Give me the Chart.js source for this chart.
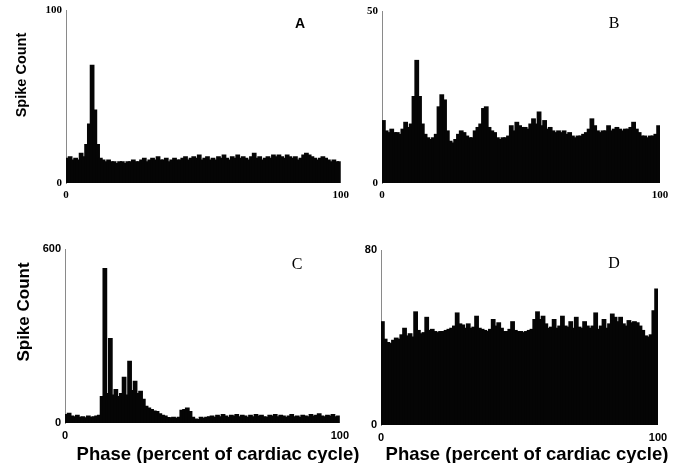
<!DOCTYPE html>
<html>
<head>
<meta charset="utf-8">
<script src="https://cdn.jsdelivr.net/npm/chart.js@4.4.1/dist/chart.umd.min.js"></script>
<style>
  html, body { margin: 0; padding: 0; background: #fff; }
  #wrap { position: relative; width: 681px; height: 463px; overflow: hidden; background: #fff; }
  canvas { position: absolute; }
  .t { position: absolute; color: #000; white-space: nowrap; transform: translate(-50%, -50%); line-height: 1; }
  .ylab { font-family: "Liberation Sans", Arial, sans-serif; font-weight: bold; transform: translate(-50%, -50%) rotate(-90deg); }
  .xlab { font-family: "Liberation Sans", Arial, sans-serif; font-weight: bold; font-size: 18.5px; }
  .let { font-family: "Liberation Serif", "Times New Roman", serif; font-size: 16px; }
</style>
</head>
<body>
<div id="wrap">
  <canvas id="cA" width="355" height="210" style="left:0px;top:0px;"></canvas>
  <canvas id="cB" width="341" height="210" style="left:340px;top:0px;"></canvas>
  <canvas id="cC" width="355" height="215" style="left:0px;top:235px;"></canvas>
  <canvas id="cD" width="341" height="215" style="left:340px;top:235px;"></canvas>

  <div class="t ylab" style="left:21px;top:75px;font-size:14.5px;">Spike Count</div>
  <div class="t ylab" style="left:23px;top:312px;font-size:17px;">Spike Count</div>
  <div class="t xlab" style="left:218px;top:454px;">Phase (percent of cardiac cycle)</div>
  <div class="t xlab" style="left:527px;top:454px;">Phase (percent of cardiac cycle)</div>

  <div class="t let" style="left:300px;top:23px;font-family:'Liberation Sans',Arial,sans-serif;font-weight:bold;font-size:14px;">A</div>
  <div class="t let" style="left:614px;top:23px;">B</div>
  <div class="t let" style="left:297px;top:264px;">C</div>
  <div class="t let" style="left:614px;top:263px;">D</div>
</div>
<script>
// ---- Data (spike counts per phase bin, 100 bins over 0–100 % of cardiac cycle) ----
const countsA = [14,15,13,14,13,17,15,22,34,68, 42,22,14,13,12,13,12,12,11,12,
  12,11,12,12,13,12,12,13,14,12, 13,14,13,15,13,13,14,12,13,14,
  13,13,14,15,13,14,15,14,16,13, 14,15,13,14,13,15,14,16,14,13,
  15,14,16,14,15,14,13,15,17,14, 15,13,14,15,14,16,15,16,15,14,
  16,15,14,15,13,14,16,17,16,15, 14,13,14,15,14,13,12,13,12,12];

const countsB = [18,15,14.5,15.5,14.5,14.5,14,15.5,17.5,16, 17,25,35.5,25,17,14,13,12.5,13,14,
  22,25.5,24,15,12,11.5,12.5,14,15,14.5, 13.5,13,13,15,16,17,21.5,22,16,15,
  14.5,13,12.5,13,13,13.5,16.5,15,17.5,16.5, 16,16,15.5,17,18.5,17,20.5,16.5,18,15.5,
  16,15,14.5,15,14.5,15,14,14.5,13.5,13, 13.5,13.5,14,14.5,15.5,18.5,16.5,15,14.5,15,
  15,16.5,15,15.5,16,15.5,15,15.5,15.5,16, 17.5,15.5,14.5,13.5,13.5,13,13.5,13.5,14,16.5];

const countsC = [28,32,22,20,25,18,20,16,22,18, 20,22,25,90,531,100,290,95,114,90,
  100,156,95,211,110,142,100,108,80,56, 50,45,40,38,30,25,22,17,16,18,
  15,18,42,45,50,38,18,12,10,18, 15,18,20,22,18,25,20,28,22,18,
  25,22,28,20,25,22,18,25,20,28, 22,25,20,18,25,22,28,20,25,22,
  18,22,28,20,22,18,25,22,20,28, 22,25,30,22,20,25,22,28,20,22];

const countsD = [47,39,37.5,37,38.5,39.5,39,41,44,40.5, 41.5,40,51.5,43,41.5,42,49,43,43.5,42.5,
  42,42.5,42.5,43,43.5,44,45,51,46,45.5, 44,46,44,44.5,49.5,44,43.5,43,42.5,43.5,
  48,45,46.5,44,42.5,42.5,43.5,47,43,42.5, 42.5,42,42.5,43,43.5,48,51.5,48,49.5,46,
  44,44.5,48,44,45,49.5,45,44.5,47,44, 49,44.5,44,47,45,44,45,51,43.5,45,
  48,44,46,50.5,49,47,49,46,45,47.5, 46.5,47,46.5,45,43,40.5,40,41,52,62];

// Phase bin centres (percent of cardiac cycle)
const phaseBins = countsA.map((_, i) => i + 0.5);

// Axis tick labels
const xTicks = [0, 100];
const yMaxA = 100, yMaxB = 50, yMaxC = 600, yMaxD = 80;

function makeChart(id, data, yMax, yWidth, xHeight, padTop, padRight, tickFamily) {
  const ctx = document.getElementById(id);
  return new Chart(ctx, {
    type: 'bar',
    data: {
      labels: phaseBins,
      datasets: [{
        data: data,
        backgroundColor: '#050505',
        borderWidth: 0,
        inflateAmount: 1,
        categoryPercentage: 1,
        barPercentage: 1
      }]
    },
    options: {
      responsive: false,
      animation: false,
      events: [],
      layout: { padding: { top: padTop, right: padRight, left: 0, bottom: 0 } },
      plugins: { legend: { display: false }, tooltip: { enabled: false } },
      scales: {
        x: {
          type: 'linear',
          min: 0, max: 100,
          offset: false,
          grid: { display: false, drawTicks: false },
          border: { display: false },
          afterBuildTicks: s => { s.ticks = xTicks.map(v => ({ value: v })); },
          afterFit: s => { s.height = xHeight; },
          ticks: {
            autoSkip: false, maxRotation: 0, padding: 6,
            color: '#000',
            font: { family: tickFamily, size: 11, weight: 'bold' }
          }
        },
        y: {
          min: 0, max: yMax,
          grid: { display: false, drawTicks: false },
          border: { display: true, color: '#8a8a8a', width: 1 },
          afterBuildTicks: s => { s.ticks = [{ value: 0 }, { value: yMax }]; },
          afterFit: s => { s.width = yWidth; },
          ticks: {
            autoSkip: false, padding: 4,
            color: '#000',
            font: { family: tickFamily, size: 11, weight: 'bold' }
          }
        }
      }
    }
  });
}

const serif = '"Liberation Serif", "Times New Roman", serif';
const sans = '"Liberation Sans", Arial, sans-serif';
makeChart('cA', countsA, yMaxA, 66, 27, 10, 12, serif);
makeChart('cB', countsB, yMaxB, 42, 27, 11, 21, serif);
makeChart('cC', countsC, yMaxC, 65, 27, 14, 12, sans);
makeChart('cD', countsD, yMaxD, 41, 25, 15, 23, sans);
</script>
</body>
</html>
